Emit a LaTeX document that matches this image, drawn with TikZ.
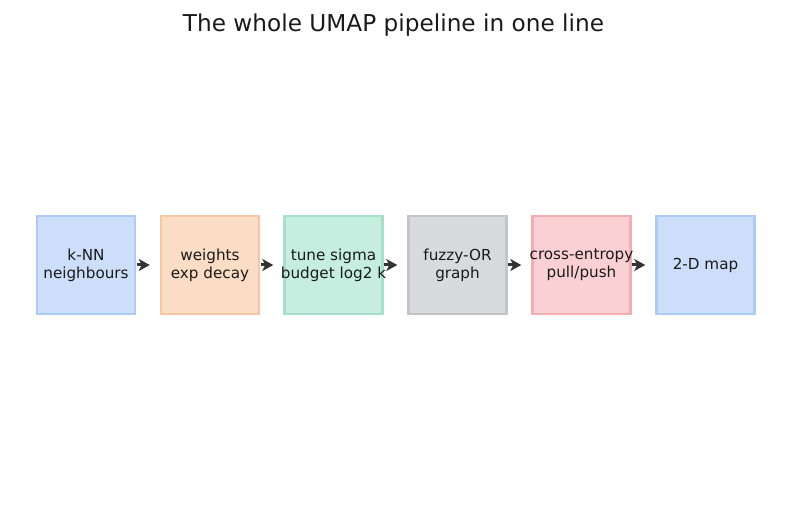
\documentclass[tikz,border=0pt]{standalone}
\usepackage{fontspec}
\setmainfont{DejaVu Sans}
\usetikzlibrary{arrows.meta}
\definecolor{bfill}{HTML}{CCDEFA}\definecolor{bdraw}{HTML}{ADCBF7}
\definecolor{ofill}{HTML}{FBDCC4}\definecolor{odraw}{HTML}{F7C6A4}
\definecolor{gfill}{HTML}{C5EDE0}\definecolor{gdraw}{HTML}{A6E0CB}
\definecolor{kfill}{HTML}{D9DADD}\definecolor{kdraw}{HTML}{C3C4C7}
\definecolor{rfill}{HTML}{FBD0D3}\definecolor{rdraw}{HTML}{F4ADB1}
\definecolor{arr}{HTML}{333333}
\definecolor{txt}{HTML}{1A1A1A}
\newcommand{\ctr}[1]{\makebox[0pt][c]{#1}}
\begin{document}
\begin{tikzpicture}[x=1pt,y=-1pt,
  stagebox/.style={minimum width=98pt,minimum height=98pt,line width=2.5pt,inner sep=0pt,
    align=center,font=\fontsize{15.2}{18}\selectfont,text=txt},
  flow/.style={-{Stealth[length=11pt,width=12pt,inset=3pt]},line width=3pt,draw=arr,shorten <=0.5pt,shorten >=10pt}]
\useasboundingbox (0,0) rectangle (787,510);
\node[font=\fontsize{23.2}{28}\selectfont,text=txt] (title) at (393.5,25) {The whole UMAP pipeline in one line};
\node[stagebox,fill=bfill,draw=bdraw] (a) at (86,265) {\ctr{k-NN}\\\ctr{neighbours}};
\node[stagebox,fill=ofill,draw=odraw] (b) at (210,265) {\ctr{weights}\\\ctr{exp decay}};
\node[stagebox,fill=gfill,draw=gdraw] (c) at (333.5,265) {\ctr{tune sigma}\\\ctr{budget log2 k}};
\node[stagebox,fill=kfill,draw=kdraw] (d) at (457.5,265) {\ctr{fuzzy-OR}\\\ctr{graph}};
\node[stagebox,fill=rfill,draw=rdraw] (e) at (581.5,265) {\ctr{cross-entropy}\\\ctr{pull/push}};
\node[stagebox,fill=bfill,draw=bdraw] (f) at (705.5,265) {\ctr{2-D map}};
\draw[flow] (a) -- (b);
\draw[flow] (b) -- (c);
\draw[flow] (c) -- (d);
\draw[flow] (d) -- (e);
\draw[flow] (e) -- (f);
\end{tikzpicture}
\end{document}
